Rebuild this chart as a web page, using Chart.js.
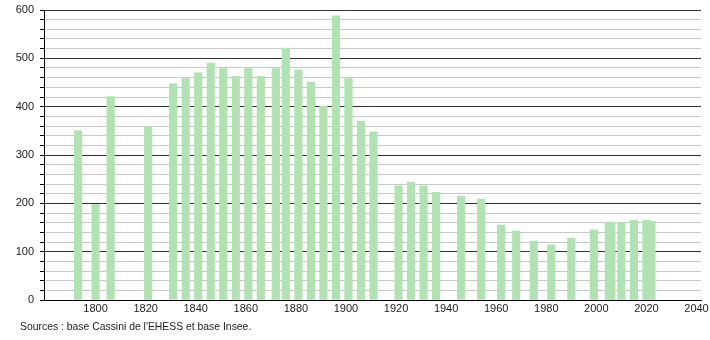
<!DOCTYPE html>
<html>
<head>
<meta charset="utf-8">
<script src="https://cdn.jsdelivr.net/npm/chart.js@4.4.1/dist/chart.umd.min.js"></script>
<style>
    body { margin: 0; background: #fff; }
    #wrap { position: relative; width: 710px; height: 340px; }
    #source {
        position: absolute; left: 20px; top: 321px;
        font: 10.4px "Liberation Sans", Arial, sans-serif; color: #222;
    }
</style>
</head>
<body>
<div id="wrap">
    <canvas id="myChart" width="710" height="340"></canvas>
    <div id="source">Sources : base Cassini de l'EHESS et base Insee.</div>
</div>
<script>
const years = [1793, 1800, 1806, 1821, 1831, 1836, 1841, 1846, 1851, 1856,
               1861, 1866, 1872, 1876, 1881, 1886, 1891, 1896, 1901, 1906,
               1911, 1921, 1926, 1931, 1936, 1946, 1954, 1962, 1968, 1975,
               1982, 1990, 1999, 2005, 2006, 2010, 2015, 2020, 2022];
const population = [350, 198, 421, 359, 447, 458, 470, 490, 479, 463,
                    479, 463, 479, 521, 476, 451, 401, 588, 458, 370,
                    348, 236, 244, 236, 223, 215, 209, 155, 143, 122,
                    114, 128, 145, 161, 161, 159, 165, 165, 163];
const xTicks = [1800, 1820, 1840, 1860, 1880, 1900, 1920, 1940, 1960, 1980, 2000, 2020, 2040];
const yTicks = [0, 100, 200, 300, 400, 500, 600];

const points = years.map((y, i) => ({ x: y, y: population[i] }));

const ctx = document.getElementById("myChart").getContext("2d");

let chartInstance = new Chart(ctx, {
    type: "bar",
    data: {
        datasets: [{
            data: points,
            backgroundColor: "#b1e2b1",
            borderWidth: 0,
            barThickness: 7.5
        }]
    },
    options: {
        responsive: false,
        animation: false,
        layout: { padding: { top: 10, right: 9, left: 0, bottom: 0 } },
        plugins: {
            legend: { display: false },
            tooltip: { enabled: false }
        },
        scales: {
            x: {
                type: "linear",
                // a little room past the first and last tick, as in the original
                min: 1779.4,
                max: 2041.8,
                offset: false,
                afterBuildTicks: scale => {
                    scale.ticks = xTicks.map(v => ({ value: v }));
                },
                ticks: {
                    autoSkip: false,
                    maxRotation: 0,
                    padding: 2,
                    color: "#222",
                    font: { family: "Liberation Sans", size: 11 },
                    callback: v => String(v)
                },
                grid: { display: false, drawTicks: false },
                border: { display: true, color: "#000", width: 1 },
                afterFit: scale => {
                    scale.height = 40;
                    scale.paddingLeft = 0;
                    scale.paddingRight = 0;
                }
            },
            y: {
                min: 0,
                max: 600,
                ticks: {
                    stepSize: 20,
                    autoSkip: false,
                    padding: 6,
                    color: "#222",
                    font: { family: "Liberation Sans", size: 11 },
                    callback: v => (yTicks.includes(v) ? String(v) : "")
                },
                grid: {
                    color: c => (c.tick && c.tick.value % 100 === 0 ? "#333" : "#c8c8c8"),
                    tickColor: "#000",
                    tickLength: 4,
                    lineWidth: 1
                },
                border: { display: true, color: "#000", width: 1 },
                afterFit: scale => {
                    scale.width = 44;
                    scale.paddingTop = 0;
                    scale.paddingBottom = 0;
                }
            }
        }
    }
});
</script>
</body>
</html>
